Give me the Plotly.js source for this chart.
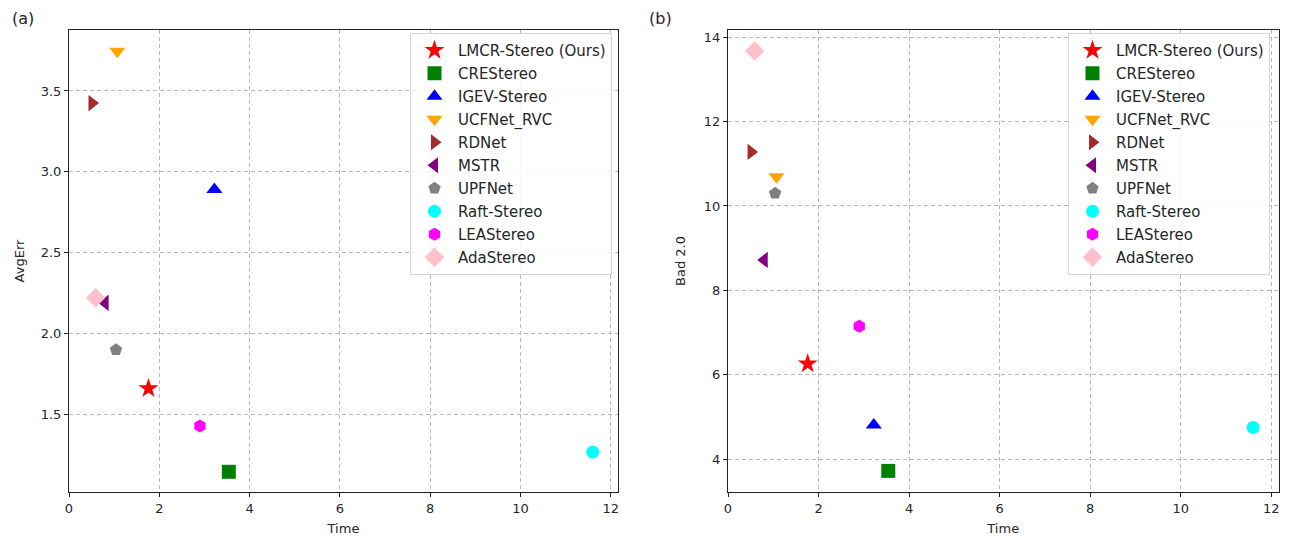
<!DOCTYPE html>
<html>
<head>
<meta charset="utf-8">
<script src="https://cdn.plot.ly/plotly-3.0.1.min.js"></script>
<style>
html,body{margin:0;padding:0;background:#fff}
#chart{width:1289px;height:536px}
</style>
</head>
<body>
<div id="chart"></div>
<script>
// ---- data ----
const methods = ['LMCR-Stereo (Ours)', 'CREStereo', 'IGEV-Stereo', 'UCFNet_RVC', 'RDNet',
                 'MSTR', 'UPFNet', 'Raft-Stereo', 'LEAStereo', 'AdaStereo'];
const timeSec = [1.76, 3.54, 3.22, 1.07, 0.51, 0.80, 1.04, 11.60, 2.90, 0.59];
const avgErr  = [1.66, 1.145, 2.89, 3.745, 3.425, 2.19, 1.90, 1.267, 1.428, 2.222];
const bad20   = [6.26, 3.72, 4.81, 10.69, 11.28, 8.72, 10.30, 4.75, 7.15, 13.67];
const xTicks  = [0, 2, 4, 6, 8, 10, 12];
const yTicksA = [1.5, 2.0, 2.5, 3.0, 3.5];
const yTicksB = [4, 6, 8, 10, 12, 14];

// ---- styles ----
const style = {
  symbols: ['star', 'square', 'triangle-up', 'triangle-down', 'triangle-right',
            'triangle-left', 'pentagon', 'circle', 'hexagon', 'diamond'],
  colors: ['red', 'green', 'blue', 'orange', 'brown', 'purple', 'gray', 'cyan', 'magenta', 'pink'],
  sizes: [15, 14, 14, 14, 14, 14, 13, 13, 13, 15]
};

const FONT = 'DejaVu Sans, Arial, sans-serif';
const TXT = '#262626';

const traces = [];
methods.forEach((m, i) => {
  const mk = {symbol: style.symbols[i], color: style.colors[i], size: style.sizes[i], line: {width: 0}};
  traces.push({type: 'scatter', mode: 'markers', name: m, x: [timeSec[i]], y: [avgErr[i]],
               xaxis: 'x', yaxis: 'y', marker: mk, legend: 'legend', legendgroup: 'a' + i});
  traces.push({type: 'scatter', mode: 'markers', name: m, x: [timeSec[i]], y: [bad20[i]],
               xaxis: 'x2', yaxis: 'y2', marker: mk, legend: 'legend2', legendgroup: 'b' + i});
});

const W = 1289, H = 536;
const axCommon = {
  showline: true, mirror: true, linecolor: '#222', linewidth: 1,
  ticks: 'outside', ticklen: 4, tickwidth: 1, tickcolor: '#222',
  showgrid: true, gridcolor: '#b8b8b8', gridwidth: 1, griddash: '4px,3px',
  zeroline: false, tickfont: {family: FONT, size: 13, color: TXT},
  automargin: false
};

const yDom = [1 - 492 / H, 1 - 30 / H];

const legCommon = {
  xanchor: 'left', yanchor: 'top', itemwidth: 37,
  bgcolor: 'rgba(255,255,255,0.85)', bordercolor: '#d6d6d6', borderwidth: 1,
  font: {family: FONT, size: 15, color: TXT}, tracegroupgap: 0.5
};

const layout = {
  width: W, height: H,
  margin: {l: 0, r: 0, t: 0, b: 0},
  paper_bgcolor: '#fff', plot_bgcolor: '#fff',
  font: {family: FONT, color: TXT},
  showlegend: true,
  xaxis: Object.assign({}, axCommon, {
    domain: [69 / W, 618 / W], anchor: 'y', range: [0, 12.16],
    tickvals: xTicks, ticktext: xTicks.map(String),
    title: {text: 'Time', font: {family: FONT, size: 13, color: TXT}, standoff: 10}
  }),
  yaxis: Object.assign({}, axCommon, {
    domain: yDom, anchor: 'x', range: [1.02, 3.877],
    tickvals: yTicksA, ticktext: yTicksA.map(v => v.toFixed(1)),
    title: {text: 'AvgErr', font: {family: FONT, size: 13, color: TXT}, standoff: 13}
  }),
  xaxis2: Object.assign({}, axCommon, {
    domain: [728 / W, 1278.5 / W], anchor: 'y2', range: [0, 12.16],
    tickvals: xTicks, ticktext: xTicks.map(String),
    title: {text: 'Time', font: {family: FONT, size: 13, color: TXT}, standoff: 10}
  }),
  yaxis2: Object.assign({}, axCommon, {
    domain: yDom, anchor: 'x2', range: [3.22, 14.17],
    tickvals: yTicksB, ticktext: yTicksB.map(String),
    title: {text: 'Bad 2.0', font: {family: FONT, size: 13, color: TXT}, standoff: 15}
  }),
  legend: Object.assign({}, legCommon, {x: 410 / W, y: 1 - 33 / H}),
  legend2: Object.assign({}, legCommon, {x: 1068 / W, y: 1 - 33 / H}),
  annotations: [
    {text: '(a)', xref: 'paper', yref: 'paper', x: 10 / W, y: 1 - 18 / H,
     xanchor: 'left', yanchor: 'middle', showarrow: false, font: {family: FONT, size: 16, color: TXT}},
    {text: '(b)', xref: 'paper', yref: 'paper', x: 647 / W, y: 1 - 18 / H,
     xanchor: 'left', yanchor: 'middle', showarrow: false, font: {family: FONT, size: 16, color: TXT}}
  ]
};

Plotly.newPlot('chart', traces, layout, {displayModeBar: false, responsive: false});
</script>
</body>
</html>
